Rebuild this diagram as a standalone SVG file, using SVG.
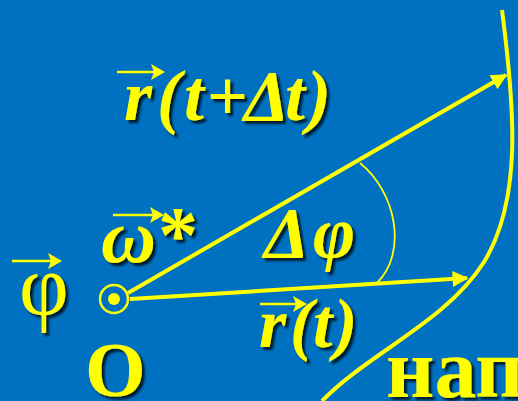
<svg xmlns="http://www.w3.org/2000/svg" width="518" height="401" viewBox="0 0 518 401">
<defs>
<filter id="sh" x="-20%" y="-20%" width="140%" height="140%">
<feDropShadow dx="3" dy="3" stdDeviation="1.2" flood-color="#000" flood-opacity="0.75"/>
</filter>
<marker id="ah" viewBox="0 0 10 10" refX="9" refY="5" markerWidth="4.2" markerHeight="4" orient="auto" markerUnits="strokeWidth">
<path d="M0,0 L10,5 L0,10 Z" fill="#FFFF00"/>
</marker>
</defs>
<style>
.bg{fill:#0070C0}
.ln{stroke:#FFFF00;stroke-width:4;fill:none}
.t{fill:#FFFF00;font-family:"Liberation Serif","Times New Roman",serif;font-weight:bold;filter:url(#sh)}
.it{font-style:italic}
.nw{font-weight:normal}
.va{stroke:#FFFF00;stroke-width:2.5;fill:none}
.vh{fill:#FFFF00}
</style>
<rect class="bg" x="0" y="0" width="518" height="401"/>
<g id="connectors">
<path class="ln" d="M502,10 C515,110 522,200 484,262 C446,322 370,352 322,401"/>
<line class="ln" x1="128" y1="293" x2="506" y2="75" marker-end="url(#ah)"/>
<line class="ln" x1="130" y1="299" x2="467" y2="278" marker-end="url(#ah)"/>
<path stroke="#FFFF00" stroke-width="1.8" fill="none" d="M360,163 C396,192 408,252 377,283"/>
</g>
<g id="origin">
<circle cx="114" cy="299" r="14" fill="none" stroke="#FFFF00" stroke-width="2.5"/>
<circle cx="114" cy="299" r="6" fill="#FFFF00"/>
</g>
<g id="label-O"><text class="t" x="85" y="396" font-size="78">O</text></g>
<g id="label-phi">
<text class="t nw" x="19" y="314" font-size="86">φ</text>
<line class="va" x1="12" y1="261" x2="55" y2="261"/><path class="vh" d="M62,261 L48,253 L51,261 L48,269 Z"/>
</g>
<g id="label-omega">
<text class="t it" x="101" y="262" font-size="76">ω</text>
<text class="t" x="158" y="262" font-size="80">*</text>
<line class="va" x1="113" y1="215" x2="157" y2="215"/><path class="vh" d="M164,215 L150,207 L153,215 L150,223 Z"/>
</g>
<g id="label-r-dt">
<text class="t it" y="120" font-size="72"><tspan x="124">r</tspan><tspan x="157">(</tspan><tspan x="184">t</tspan><tspan x="207" font-style="normal">+</tspan><tspan x="244">Δ</tspan><tspan x="285">t</tspan><tspan x="307">)</tspan></text>
<line class="va" x1="117" y1="72" x2="158" y2="72"/><path class="vh" d="M165,72 L151,64 L154,72 L151,80 Z"/>
</g>
<g id="label-dphi">
<text class="t it" y="257" font-size="72"><tspan x="264">Δ</tspan><tspan x="313">φ</tspan></text>
</g>
<g id="label-r-t">
<text class="t it" y="347" font-size="70"><tspan x="259">r</tspan><tspan x="290">(</tspan><tspan x="313">t</tspan><tspan x="334">)</tspan></text>
<line class="va" x1="260" y1="304" x2="300" y2="304"/><path class="vh" d="M307,304 L293,296 L296,304 L293,312 Z"/>
</g>
<g id="label-nap"><text class="t" x="386" y="397" font-size="84">нап</text></g>
</svg>
